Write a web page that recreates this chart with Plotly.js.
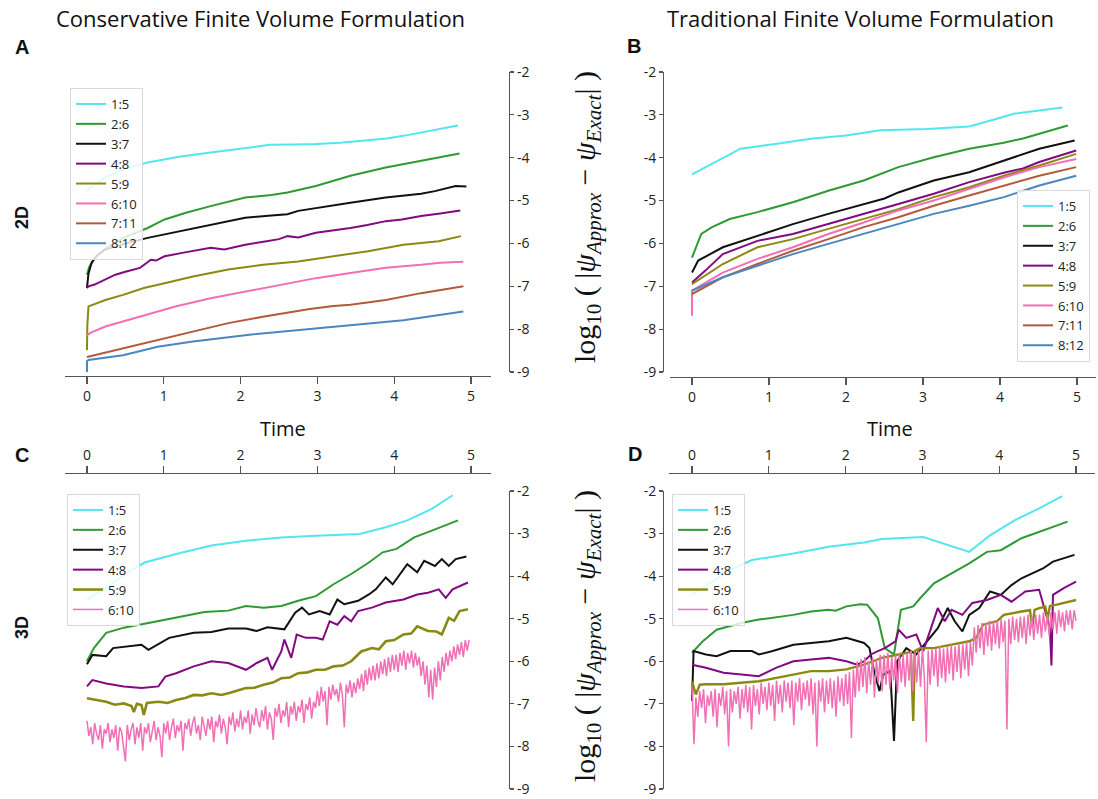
<!DOCTYPE html>
<html>
<head>
<meta charset="utf-8">
<script src="https://cdn.plot.ly/plotly-3.0.1.min.js"></script>
<style>html,body{margin:0;padding:0;background:#fff;}#plot{width:1098px;height:799px;}</style>
</head>
<body>
<div id="plot"></div>
<script>
// ---------- labels & ticks ----------
const labels = ['1:5','2:6','3:7','4:8','5:9','6:10','7:11','8:12'];
const colors = ['#52e6ef','#2f9a33','#111111','#800a80','#8a8a12','#f26fb4','#b35a3a','#4a86bf'];
const xTicks = [0,1,2,3,4,5];
const xTickText = ['0','1','2','3','4','5'];
const yTicks = [-9,-8,-7,-6,-5,-4,-3,-2];
const yTickText = ['-9','-8','-7','-6','-5','-4','-3','-2'];

// ---------- Panel A (2D, conservative) ----------
const a1_t = [0,0.1,0.25,0.5,0.79,1.2,1.61,2.0,2.38,2.7,2.98,3.3,3.62,3.9,4.12,4.35,4.6,4.83];
const a1_y = [-4.78,-4.62,-4.45,-4.25,-4.11,-3.98,-3.88,-3.78,-3.70,-3.69,-3.68,-3.65,-3.60,-3.55,-3.49,-3.41,-3.33,-3.25];
const a2_t = [0,0.03,0.1,0.25,0.5,0.79,1.01,1.3,1.61,2.06,2.4,2.61,2.98,3.43,3.89,4.35,4.6,4.85];
const a2_y = [-6.73,-6.55,-6.35,-6.1,-5.85,-5.64,-5.44,-5.28,-5.13,-4.93,-4.87,-4.81,-4.66,-4.42,-4.23,-4.07,-3.99,-3.90];
const a3_t = [0,0.02,0.06,0.12,0.24,0.5,0.79,1.01,1.3,1.61,2.06,2.4,2.61,2.75,2.98,3.43,3.89,4.35,4.53,4.8,4.94];
const a3_y = [-7.04,-6.7,-6.45,-6.3,-6.14,-6.0,-5.87,-5.79,-5.68,-5.56,-5.40,-5.35,-5.32,-5.24,-5.17,-5.05,-4.93,-4.84,-4.78,-4.66,-4.67];
const a4_t = [0,0.02,0.1,0.2,0.37,0.5,0.69,0.78,0.83,0.9,1.01,1.24,1.45,1.61,1.79,2.06,2.34,2.5,2.61,2.75,2.98,3.2,3.43,3.65,3.89,4.1,4.35,4.6,4.86];
const a4_y = [-7.04,-7.0,-6.96,-6.88,-6.73,-6.66,-6.57,-6.45,-6.38,-6.40,-6.30,-6.22,-6.15,-6.10,-6.14,-6.03,-5.95,-5.90,-5.83,-5.86,-5.75,-5.70,-5.64,-5.57,-5.48,-5.44,-5.36,-5.30,-5.23];
const a5_t = [0,0.005,0.02,0.1,0.24,0.47,0.74,1.01,1.38,1.84,2.29,2.75,3.21,3.66,4.12,4.58,4.87];
const a5_y = [-8.49,-7.9,-7.47,-7.42,-7.32,-7.20,-7.04,-6.93,-6.77,-6.61,-6.50,-6.42,-6.30,-6.18,-6.03,-5.95,-5.83];
const a6_t = [0,0.05,0.24,0.69,1.15,1.61,2.06,2.52,2.98,3.43,3.89,4.35,4.6,4.9];
const a6_y = [-8.14,-8.08,-7.94,-7.71,-7.47,-7.28,-7.12,-6.96,-6.81,-6.69,-6.57,-6.50,-6.45,-6.43];
const a7_t = [0,0.47,0.92,1.38,1.84,2.29,2.6,2.75,2.9,3.21,3.43,3.89,4.35,4.9];
const a7_y = [-8.65,-8.45,-8.25,-8.06,-7.86,-7.71,-7.62,-7.57,-7.53,-7.46,-7.43,-7.32,-7.16,-7.00];
const a8_t = [0,0,0.02,0.47,0.92,1.38,2.06,2.75,3.43,4.12,4.9];
const a8_y = [-9.3,-8.75,-8.72,-8.61,-8.41,-8.29,-8.14,-8.02,-7.90,-7.79,-7.59];

// ---------- Panel B (2D, traditional) ----------
const b1_t = [0,0.2,0.4,0.63,1.08,1.54,2.0,2.45,3.05,3.6,3.96,4.19,4.51,4.81];
const b1_y = [-4.39,-4.2,-4.0,-3.79,-3.68,-3.56,-3.48,-3.36,-3.33,-3.27,-3.09,-2.97,-2.90,-2.83];
const b2_t = [0,0.12,0.26,0.49,0.85,1.31,1.77,2.23,2.68,3.14,3.6,4.05,4.3,4.6,4.88];
const b2_y = [-6.33,-5.78,-5.62,-5.43,-5.27,-5.04,-4.77,-4.53,-4.22,-3.99,-3.79,-3.65,-3.55,-3.40,-3.25];
const b3_t = [0,0.08,0.4,0.85,1.31,1.77,2.23,2.5,2.68,3.14,3.6,4.05,4.51,4.97];
const b3_y = [-6.68,-6.40,-6.09,-5.82,-5.55,-5.31,-5.08,-4.95,-4.81,-4.53,-4.34,-4.07,-3.79,-3.60];
const b4_t = [0,0.17,0.4,0.63,0.85,1.31,1.77,2.23,2.68,3.14,3.6,4.05,4.3,4.51,4.99];
const b4_y = [-6.91,-6.64,-6.25,-6.09,-5.94,-5.78,-5.55,-5.31,-5.08,-4.84,-4.57,-4.35,-4.25,-4.10,-3.83];
const b5_t = [0,0.4,0.85,1.31,1.77,2.23,2.68,3.14,3.6,4.05,4.51,4.99];
const b5_y = [-6.95,-6.48,-6.09,-5.90,-5.66,-5.43,-5.20,-4.92,-4.69,-4.42,-4.18,-3.91];
const b6_t = [0,0,0.4,0.85,1.31,1.77,2.23,2.68,3.14,3.6,4.05,4.51,4.99];
const b6_y = [-7.69,-7.10,-6.68,-6.36,-6.09,-5.78,-5.51,-5.23,-5.00,-4.73,-4.46,-4.22,-4.03];
const b7_t = [0,0.4,0.85,1.31,1.77,2.23,2.68,3.14,3.6,4.05,4.51,4.99];
const b7_y = [-7.18,-6.79,-6.48,-6.17,-5.90,-5.62,-5.39,-5.12,-4.88,-4.65,-4.42,-4.22];
const b8_t = [0,0.4,0.85,1.31,1.77,2.23,2.68,3.14,3.6,4.05,4.51,4.99];
const b8_y = [-7.10,-6.79,-6.52,-6.25,-6.01,-5.78,-5.55,-5.31,-5.12,-4.92,-4.65,-4.42];

// ---------- Panel C (3D, conservative) ----------
const c1_t = [0,0.25,0.5,0.75,1.16,1.62,2.07,2.53,2.98,3.55,3.89,4.17,4.49,4.76];
const c1_y = [-4.55,-4.27,-3.95,-3.68,-3.48,-3.28,-3.17,-3.09,-3.05,-3.01,-2.85,-2.69,-2.42,-2.10];
const c2_t = [0,0.09,0.25,0.48,0.8,1.16,1.53,1.84,2.07,2.3,2.53,2.75,2.98,3.21,3.44,3.67,3.85,4.03,4.26,4.49,4.83];
const c2_y = [-6.00,-5.69,-5.33,-5.21,-5.10,-4.98,-4.84,-4.81,-4.70,-4.74,-4.70,-4.58,-4.47,-4.19,-3.95,-3.68,-3.44,-3.36,-3.09,-2.93,-2.69];
const c3_t = [0,0.07,0.25,0.34,0.71,0.8,1.07,1.39,1.62,1.84,2.07,2.21,2.35,2.57,2.71,2.8,2.89,3.03,3.16,3.26,3.35,3.53,3.67,3.76,3.89,3.98,4.17,4.3,4.39,4.53,4.62,4.71,4.8,4.94];
const c3_y = [-6.07,-5.85,-5.88,-5.69,-5.61,-5.73,-5.45,-5.33,-5.31,-5.23,-5.23,-5.29,-5.20,-5.25,-4.86,-4.74,-4.90,-4.82,-4.90,-4.55,-4.66,-4.58,-4.43,-4.31,-4.03,-4.19,-3.72,-3.91,-3.64,-3.76,-3.60,-3.76,-3.60,-3.54];
const c4_t = [0,0.07,0.25,0.48,0.71,0.93,1.02,1.16,1.39,1.62,1.84,2.07,2.21,2.35,2.41,2.53,2.57,2.66,2.73,2.85,2.98,3.07,3.16,3.26,3.35,3.44,3.53,3.71,3.89,4.12,4.3,4.44,4.58,4.67,4.76,4.96];
const c4_y = [-6.59,-6.44,-6.52,-6.59,-6.63,-6.59,-6.36,-6.28,-6.12,-6.00,-6.04,-6.20,-6.04,-5.92,-6.20,-5.77,-5.49,-5.92,-5.37,-5.45,-5.45,-5.49,-5.06,-5.14,-4.94,-5.06,-4.82,-4.74,-4.62,-4.55,-4.43,-4.39,-4.31,-4.51,-4.31,-4.15];
const c5_t = [0,0.12,0.25,0.36,0.48,0.58,0.61,0.65,0.71,0.74,0.78,0.93,1.05,1.16,1.28,1.39,1.5,1.62,1.75,1.84,1.95,2.07,2.18,2.3,2.42,2.53,2.64,2.75,2.87,2.98,3.1,3.21,3.33,3.44,3.57,3.71,3.8,3.89,4.0,4.12,4.22,4.3,4.44,4.55,4.62,4.71,4.78,4.85,4.96];
const c5_y = [-6.87,-6.90,-6.95,-7.02,-6.99,-7.05,-7.19,-7.00,-7.03,-7.26,-6.98,-6.95,-6.98,-6.91,-6.86,-6.79,-6.80,-6.75,-6.79,-6.75,-6.70,-6.63,-6.62,-6.55,-6.50,-6.40,-6.38,-6.28,-6.26,-6.20,-6.20,-6.12,-6.10,-6.00,-5.77,-5.69,-5.72,-5.53,-5.50,-5.37,-5.35,-5.18,-5.29,-5.30,-5.37,-4.98,-5.05,-4.82,-4.78];
// 6:10 sampled every 0.025 time units from t = 0
const c6_y = [
 -7.40,-7.75,-7.55,-7.95,-7.45,-7.70,-7.85,-7.50,-8.05,-7.60,
 -7.70,-7.45,-7.90,-7.60,-7.80,-7.50,-8.10,-7.55,-7.65,-7.95,
 -8.35,-7.50,-7.85,-7.60,-7.45,-7.95,-7.55,-7.80,-7.45,-8.10,
 -7.55,-7.70,-7.45,-7.90,-7.60,-7.40,-7.85,-7.55,-7.75,-8.25,
 -7.45,-7.70,-7.40,-7.85,-7.55,-7.35,-7.80,-7.50,-7.65,-7.40,
 -8.10,-7.45,-7.60,-7.35,-7.75,-7.45,-7.30,-7.70,-7.50,-7.85,
 -7.30,-7.55,-7.75,-7.35,-7.60,-7.30,-7.90,-7.40,-7.55,-7.25,
 -7.70,-7.35,-7.55,-7.95,-7.30,-7.50,-7.20,-7.65,-7.35,-7.55,
 -7.15,-7.60,-7.30,-7.45,-7.15,-7.70,-7.25,-7.50,-7.10,-7.40,
 -7.55,-7.15,-7.40,-7.05,-7.60,-7.20,-7.35,-7.85,-7.10,-7.30,
 -7.00,-7.45,-7.15,-7.30,-6.95,-7.55,-7.05,-7.25,-6.95,-7.40,
 -7.05,-7.20,-6.90,-7.45,-7.00,-7.15,-6.85,-7.35,-6.95,-7.10,
 -6.70,-7.05,-6.60,-6.95,-6.70,-7.50,-6.60,-6.90,-6.55,-6.80,
 -6.65,-6.95,-6.50,-6.80,-7.55,-6.55,-6.75,-6.45,-6.85,-6.50,
 -6.75,-6.40,-6.65,-6.30,-6.70,-6.20,-6.55,-6.15,-6.45,-6.10,
 -6.45,-6.05,-6.40,-6.00,-6.30,-5.95,-6.35,-5.90,-6.25,-5.85,
 -6.20,-5.85,-6.25,-5.80,-6.10,-5.75,-6.20,-5.80,-6.05,-5.75,
 -6.15,-5.80,-6.10,-5.90,-6.35,-6.00,-6.55,-6.10,-6.85,-6.20,
 -6.90,-6.15,-6.60,-6.00,-6.45,-5.90,-6.25,-5.80,-6.10,-5.75,
 -6.00,-5.65,-5.95,-5.60,-5.85,-5.55,-5.90,-5.50,-5.75,-5.50];

// ---------- Panel D (3D, traditional) ----------
const d1_t = [0,0.25,0.5,0.78,1.32,1.78,2.24,2.47,2.69,3.01,3.61,3.88,4.2,4.52,4.82];
const d1_y = [-4.44,-4.15,-3.85,-3.62,-3.47,-3.31,-3.21,-3.13,-3.11,-3.08,-3.43,-3.04,-2.69,-2.41,-2.12];
const d2_t = [0,0.14,0.32,0.64,0.87,1.32,1.55,1.78,1.87,2.01,2.19,2.28,2.42,2.51,2.63,2.72,2.88,2.97,3.15,3.38,3.61,3.84,4.02,4.29,4.52,4.89];
const d2_y = [-5.80,-5.53,-5.26,-5.10,-5.02,-4.91,-4.83,-4.79,-4.81,-4.71,-4.66,-4.67,-4.99,-5.69,-5.84,-4.79,-4.71,-4.52,-4.17,-3.93,-3.70,-3.43,-3.39,-3.11,-2.96,-2.72];
const d3_t = [0,0.02,0.18,0.32,0.5,0.78,0.87,1.05,1.32,1.55,1.78,2.01,2.15,2.24,2.31,2.37,2.44,2.49,2.58,2.63,2.67,2.79,2.92,3.06,3.2,3.33,3.42,3.52,3.61,3.74,3.88,4.02,4.16,4.29,4.43,4.57,4.7,4.84,4.98];
const d3_y = [-6.93,-5.76,-5.84,-5.88,-5.76,-5.76,-5.84,-5.76,-5.61,-5.57,-5.53,-5.45,-5.53,-5.57,-5.69,-6.23,-6.70,-6.31,-6.23,-7.87,-6.00,-5.69,-5.84,-5.53,-5.22,-4.75,-5.06,-5.30,-4.91,-4.75,-4.36,-4.44,-4.21,-4.05,-3.93,-3.82,-3.66,-3.58,-3.50];
const d4_t = [0,0.18,0.41,0.64,0.87,1.1,1.32,1.55,1.78,2.01,2.15,2.24,2.33,2.42,2.51,2.65,2.69,2.79,2.92,3.01,3.11,3.2,3.29,3.38,3.52,3.65,3.84,4.02,4.16,4.34,4.52,4.66,4.68,4.69,4.7,4.84,5.0];
const d4_y = [-6.08,-6.15,-6.27,-6.31,-6.35,-6.15,-6.00,-5.96,-5.92,-6.00,-6.08,-6.00,-5.84,-5.76,-5.69,-5.53,-5.26,-5.45,-5.37,-5.76,-5.22,-4.75,-5.06,-4.79,-4.91,-4.63,-4.56,-4.44,-4.60,-4.36,-4.32,-5.22,-6.10,-5.00,-4.44,-4.28,-4.13];
const d5_t = [0,0.05,0.1,0.18,0.41,0.64,0.87,1.1,1.32,1.55,1.78,2.01,2.24,2.47,2.69,2.85,2.88,2.9,2.97,3.15,3.38,3.61,3.7,3.79,3.97,4.06,4.29,4.4,4.43,4.46,4.52,4.6,4.63,4.66,4.75,5.0];
const d5_y = [-6.47,-6.78,-6.55,-6.54,-6.54,-6.50,-6.47,-6.39,-6.31,-6.23,-6.23,-6.19,-6.08,-5.92,-5.84,-5.78,-7.40,-5.76,-5.69,-5.69,-5.61,-5.53,-5.45,-5.14,-5.06,-4.91,-4.83,-4.80,-5.20,-4.79,-4.75,-4.72,-5.00,-4.70,-4.67,-4.56];
// 6:10 sampled every 0.025 time units from t = 0
const d6_y = [
 -6.60,-7.95,-6.85,-7.30,-6.70,-7.10,-6.65,-7.45,-6.80,-7.05,
 -6.70,-7.30,-6.65,-7.55,-6.75,-7.05,-6.60,-7.25,-6.70,-8.00,
 -6.65,-7.20,-6.70,-7.00,-6.60,-7.35,-6.65,-7.10,-6.55,-7.20,
 -6.60,-7.60,-6.55,-7.05,-6.65,-7.25,-6.50,-7.00,-6.60,-7.15,
 -6.50,-7.05,-6.55,-7.40,-6.45,-7.00,-6.55,-7.20,-6.45,-6.95,
 -6.50,-7.10,-6.45,-7.50,-6.50,-6.95,-6.40,-7.15,-6.50,-6.90,
 -6.45,-7.05,-6.40,-7.25,-6.50,-8.00,-6.45,-6.95,-6.40,-7.20,
 -6.45,-7.00,-6.40,-7.10,-6.45,-7.30,-6.35,-6.95,-6.40,-7.05,
 -6.30,-7.00,-6.25,-7.80,-6.20,-6.85,-6.00,-6.70,-5.95,-6.60,
 -5.90,-6.75,-6.00,-6.55,-5.90,-6.85,-5.95,-6.50,-5.85,-6.70,
 -5.85,-6.55,-5.80,-6.65,-5.90,-6.45,-5.85,-6.75,-5.80,-6.50,
 -5.85,-6.60,-5.80,-6.45,-5.75,-6.70,-5.80,-6.50,-5.75,-6.60,
 -5.70,-6.40,-7.90,-5.75,-6.55,-5.70,-6.35,-5.70,-6.60,-5.65,
 -6.40,-5.70,-6.50,-5.65,-6.30,-5.60,-6.45,-5.65,-6.25,-5.60,
 -6.40,-5.60,-6.20,-5.55,-6.35,-5.55,-6.10,-5.20,-5.80,-5.15,
 -5.70,-5.10,-5.85,-5.10,-5.65,-5.05,-5.75,-5.05,-5.60,-5.05,
 -5.70,-5.00,-5.55,-5.05,-7.60,-5.00,-5.60,-4.95,-5.50,-5.00,
 -5.55,-4.95,-5.45,-4.95,-5.60,-4.90,-5.40,-4.95,-5.50,-4.90,
 -5.35,-4.90,-5.45,-4.85,-5.30,-4.90,-5.40,-4.85,-5.25,-4.85,
 -5.35,-4.80,-5.20,-4.85,-5.30,-4.80,-5.15,-4.80,-5.25,-4.80,
 -5.05];
const sampleStep = 0.025;

// ---------- build traces ----------
const W = 1098, H = 799;
function tr(t, y, i, ax, leg, w) {
  const o = {y: y, type: 'scatter', mode: 'lines', name: labels[i],
    line: {color: colors[i], width: w || 2}, xaxis: 'x' + ax, yaxis: 'y' + ax,
    legend: leg, showlegend: true, hoverinfo: 'skip'};
  if (t) { o.x = t; } else { o.x0 = 0; o.dx = sampleStep; }
  return o;
}
const traces = [
  tr(a1_t,a1_y,0,'','legend'), tr(a2_t,a2_y,1,'','legend'), tr(a3_t,a3_y,2,'','legend'), tr(a4_t,a4_y,3,'','legend'),
  tr(a5_t,a5_y,4,'','legend'), tr(a6_t,a6_y,5,'','legend'), tr(a7_t,a7_y,6,'','legend'), tr(a8_t,a8_y,7,'','legend'),
  tr(b1_t,b1_y,0,'2','legend2'), tr(b2_t,b2_y,1,'2','legend2'), tr(b3_t,b3_y,2,'2','legend2'), tr(b4_t,b4_y,3,'2','legend2'),
  tr(b5_t,b5_y,4,'2','legend2'), tr(b6_t,b6_y,5,'2','legend2'), tr(b7_t,b7_y,6,'2','legend2'), tr(b8_t,b8_y,7,'2','legend2'),
  tr(c1_t,c1_y,0,'3','legend3'), tr(c2_t,c2_y,1,'3','legend3'), tr(c3_t,c3_y,2,'3','legend3'), tr(c4_t,c4_y,3,'3','legend3'),
  tr(c5_t,c5_y,4,'3','legend3',2.6), tr(null,c6_y,5,'3','legend3',1.5),
  tr(d1_t,d1_y,0,'4','legend4'), tr(d2_t,d2_y,1,'4','legend4'), tr(d3_t,d3_y,2,'4','legend4'), tr(d4_t,d4_y,3,'4','legend4'),
  tr(d5_t,d5_y,4,'4','legend4',2.4), tr(null,d6_y,5,'4','legend4',1.5)
];

const axCol = '#555';
const tickFont = {family: 'Open Sans, sans-serif', size: 14, color: '#222'};
function xax(l, r, r0, r1, pos, side) {
  return {domain: [l / W, r / W], range: [r0, r1], anchor: 'free', position: 1 - pos / H, side: side,
    showline: true, linecolor: axCol, linewidth: 1.3, ticks: 'outside', ticklen: 7, tickwidth: 1.2, tickcolor: axCol,
    tickvals: xTicks, ticktext: xTickText, showgrid: false, zeroline: false, tickfont: tickFont, fixedrange: true};
}
function yax(top, bot, pos, side) {
  return {domain: [1 - bot / H, 1 - top / H], range: [-9, -2], anchor: 'free', position: pos / W, side: side,
    showline: true, linecolor: axCol, linewidth: 1.3, ticks: 'outside', ticklen: 4, tickwidth: 1.2, tickcolor: axCol,
    tickvals: yTicks, ticktext: yTickText, showgrid: false, zeroline: false, tickfont: tickFont, fixedrange: true};
}
function leg(x, y, xa, ya) {
  return {x: x / W, y: 1 - y / H, xanchor: xa, yanchor: ya, bgcolor: 'rgba(255,255,255,0.82)',
    bordercolor: '#d9d9d9', borderwidth: 1, font: {family: 'Open Sans, sans-serif', size: 13, color: '#222'},
    tracegroupgap: 0, itemwidth: 30, traceorder: 'normal'};
}
function ann(text, x, y, size, opts) {
  return Object.assign({text: text, x: x / W, y: 1 - y / H, xref: 'paper', yref: 'paper', showarrow: false,
    xanchor: 'center', yanchor: 'middle', font: {family: 'Open Sans, sans-serif', size: size, color: '#111'}}, opts || {});
}
const ylab = 'log<sub>10</sub> ( |<i>ψ</i><sub><i>Approx</i></sub> − <i>ψ</i><sub><i>Exact</i></sub>| )';
const serif = {family: 'Liberation Serif, serif', size: 30, color: '#111'};
const boldF = s => ({family: 'Liberation Sans, Arial, sans-serif', size: s, color: '#111', weight: 'bold'});

const layout = {
  width: W, height: H, margin: {l: 0, r: 0, t: 0, b: 0}, autosize: false,
  paper_bgcolor: '#fff', plot_bgcolor: 'rgba(0,0,0,0)', showlegend: true,
  xaxis: xax(65, 491, -0.286, 5.26, 376, 'bottom'),
  yaxis: yax(72, 372, 509, 'right'),
  xaxis2: xax(670, 1096, -0.286, 5.247, 377, 'bottom'),
  yaxis2: yax(72, 372, 663, 'left'),
  xaxis3: xax(65, 491, -0.286, 5.26, 473, 'top'),
  yaxis3: yax(491, 789, 509, 'right'),
  xaxis4: xax(669, 1095, -0.30, 5.247, 473, 'top'),
  yaxis4: yax(491, 789, 663, 'left'),
  legend: leg(70, 88, 'left', 'top'),
  legend2: leg(1090, 362, 'right', 'bottom'),
  legend3: leg(67, 494, 'left', 'top'),
  legend4: leg(672, 494, 'left', 'top'),
  annotations: [
    ann('Conservative Finite Volume Formulation', 260, 18, 22),
    ann('Traditional Finite Volume Formulation', 860, 18, 22),
    ann('Time', 283, 428, 20),
    ann('Time', 890, 428, 20),
    ann('<b>A</b>', 22, 47, 20, {font: boldF(20)}),
    ann('<b>B</b>', 634, 46, 20, {font: boldF(20)}),
    ann('<b>C</b>', 22, 455, 20, {font: boldF(20)}),
    ann('<b>D</b>', 635, 454, 20, {font: boldF(20)}),
    ann('<b>2D</b>', 22, 218, 18, {font: boldF(18), textangle: -90}),
    ann('<b>3D</b>', 22, 628, 18, {font: boldF(18), textangle: -90}),
    ann(ylab, 587, 217, 30, {font: serif, textangle: -90}),
    ann(ylab, 587, 636, 30, {font: serif, textangle: -90})
  ]
};
Plotly.newPlot('plot', traces, layout, {staticPlot: true, displayModeBar: false});
</script>
</body>
</html>
